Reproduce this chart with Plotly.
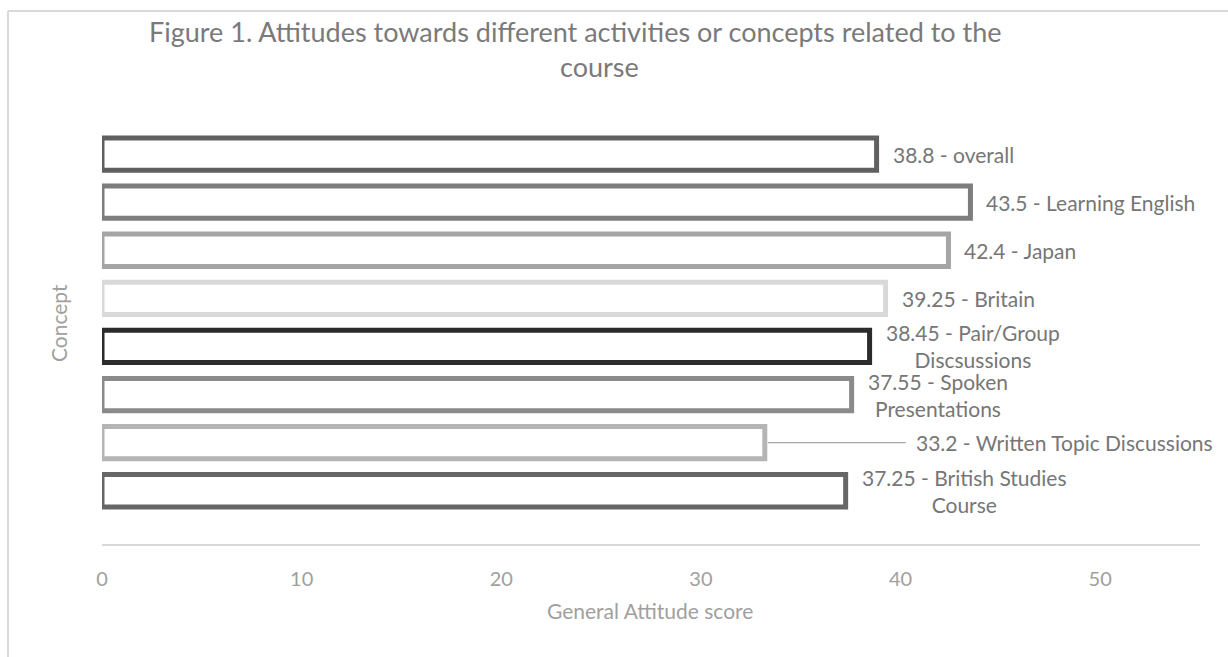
import plotly.graph_objects as go

# ---- data ----
concepts = ["overall", "Learning English", "Japan", "Britain",
            "Pair/Group Discsussions", "Spoken Presentations",
            "Written Topic Discussions", "British Studies Course"]
scores = [38.8, 43.5, 42.4, 39.25, 38.45, 37.55, 33.2, 37.25]
label_names = ["overall", "Learning English", "Japan", "Britain",
               "Pair/Group<br>Discsussions", "Spoken<br>Presentations",
               "Written Topic Discussions", "British Studies<br>Course"]
x_ticks = [0, 10, 20, 30, 40, 50]
title_lines = ["Figure 1. Attitudes towards different activities or concepts related to the",
               "course"]

outline_colors = ["#606060", "#7d7d7d", "#a5a5a5", "#d9d9d9",
                  "#2b2b2b", "#8a8a8a", "#b5b5b5", "#666666"]

FONT = "Lato"
W, H = 1228, 657
ML, MR, MT, MB = 102, 28, 130, 113
PW, PH = W - ML - MR, H - MT - MB

def px_x(p):
    return (p - ML) / PW

def px_y(p):
    return (H - MB - p) / PH

fig = go.Figure()
fig.add_trace(go.Bar(
    y=concepts, x=scores, orientation="h",
    width=0.672,
    marker=dict(color="white", line=dict(color=outline_colors, width=5)),
    cliponaxis=False,
    hoverinfo="x+y",
    showlegend=False,
))

annotations = []
for c, v, n in zip(concepts, scores, label_names):
    txt = f"{v} - {n}"
    if c == "Written Topic Discussions":
        annotations.append(dict(
            x=v, y=c, xref="x", yref="y", text=txt,
            showarrow=True, arrowhead=0, arrowwidth=1.2, arrowcolor="#a6a6a6",
            ax=300, ay=0, standoff=3, borderpad=10,
            xanchor="center", yanchor="middle",
            font=dict(family=FONT, size=21, color="#767676"),
        ))
    else:
        annotations.append(dict(
            x=v, y=c, xref="x", yref="y", text=txt,
            showarrow=False, xanchor="left", yanchor="middle",
            xshift=14, align="center",
            font=dict(family=FONT, size=21, color="#767676"),
        ))

# chart title (two centred lines)
annotations.append(dict(
    x=px_x(599), y=px_y(49), xref="paper", yref="paper",
    text=title_lines[0] + "&nbsp;" * 7 + "<br>" + title_lines[1],
    showarrow=False, xanchor="center", yanchor="middle", align="center",
    font=dict(family=FONT, size=27, color="#7a7a7a"),
))
annotations.append(dict(
    x=px_x(58), y=px_y(323), xref="paper", yref="paper",
    text="Concept", textangle=-90, showarrow=False,
    xanchor="center", yanchor="middle",
    font=dict(family=FONT, size=21, color="#a0a0a0"),
))
annotations.append(dict(
    x=px_x(650), y=px_y(610), xref="paper", yref="paper",
    text="General Attitude score", showarrow=False,
    xanchor="center", yanchor="middle",
    font=dict(family=FONT, size=21, color="#a0a0a0"),
))

shapes = [
    dict(type="line", xref="paper", yref="paper",
         x0=px_x(8), x1=px_x(W + 5), y0=px_y(11), y1=px_y(11),
         line=dict(color="#d9d9d9", width=2)),
    dict(type="line", xref="paper", yref="paper",
         x0=px_x(8), x1=px_x(8), y0=px_y(11), y1=px_y(H + 5),
         line=dict(color="#d9d9d9", width=2)),
]

fig.update_layout(
    width=W, height=H, autosize=False,
    margin=dict(l=ML, r=MR, t=MT, b=MB),
    paper_bgcolor="white", plot_bgcolor="white",
    xaxis=dict(
        range=[0, 55], tickvals=x_ticks, showgrid=False, zeroline=False,
        showline=True, linecolor="#d9d9d9", linewidth=2,
        ticks="", ticklabelstandoff=16,
        tickfont=dict(family=FONT, size=20, color="#a0a0a0"),
    ),
    yaxis=dict(
        categoryorder="array", categoryarray=concepts,
        range=[8.107, -0.5], showticklabels=False, showgrid=False,
        zeroline=False, showline=False, ticks="",
    ),
    annotations=annotations,
    shapes=shapes,
    font=dict(family=FONT),
)

fig.write_html("out.html")
